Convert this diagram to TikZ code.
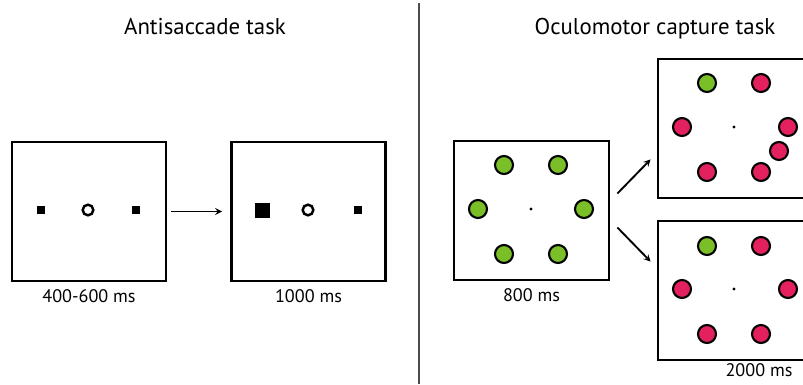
\documentclass[tikz,border=0pt]{standalone}
\usepackage{fontspec}
\setmainfont{PT Sans}
\usetikzlibrary{arrows,positioning}
\definecolor{stimgreen}{RGB}{122,190,40}
\definecolor{stimred}{RGB}{226,33,94}

\begin{document}
\begin{tikzpicture}[
    x=0.03cm, y=-0.03cm,
    node distance=0.2cm,
    screen/.style={rectangle, draw, line width=2.4pt, minimum height=4.17cm},
    heading/.style={font=\fontsize{19.5}{23}\selectfont, inner sep=0pt, anchor=base},
    timing/.style={font=\fontsize{15.5}{18}\selectfont, inner sep=0pt},
    disc/.style={circle, draw, line width=1.8pt, minimum size=0.54cm, inner sep=0pt},
    fixdot/.style={circle, fill, inner sep=0pt, minimum size=0.1cm},
    cue/.style={rectangle, fill, inner sep=0pt, minimum size=0.25cm},
    ring/.style={circle, draw, line width=2.1pt, inner sep=0pt, minimum size=0.32cm},
    arrow/.style={line width=1.6pt,->,>=stealth}
]
\useasboundingbox (0,0) rectangle (803,384);
\clip (0,0) rectangle (803,384);

% Antisaccade task
\node[heading] (antititle) at (205,34) {Antisaccade task};
\node[screen, minimum width=4.62cm] (box1) at (89,211.5) {};
\node[screen, minimum width=4.62cm] (box2) at (308.5,211.5) {};
\node[timing, below=of box1] (t1) {400-600 ms};
\node[timing, below=of box2] (t2) {1000 ms};

\node[cue] (cueL1) at (41,210) {};
\node[ring] (ring1) at (88,210) {};
\node[cue] (cueR1) at (136,210) {};
\node[cue, minimum size=0.45cm] (cueL2) at (262,210) {};
\node[ring] (ring2) at (308,210) {};
\node[cue] (cueR2) at (358,210) {};

\draw[arrow, shorten <=0.12cm, shorten >=0.24cm] (box1) -- (box2);

% Divider
\draw[gray!60!black, line width=1.3pt] (419,3) -- (419,384);

% Oculomotor capture task
\node[heading] (octitle) at (655,34) {Oculomotor capture task};
\node[screen, minimum width=4.65cm] (box3) at (531.5,210.5) {};
\node[screen, minimum width=6.06cm] (box4) at (759,128.5) {};
\node[screen, minimum width=6.06cm] (box5) at (759,290.5) {};
\node[timing, below=of box3] (t3) {800 ms};
\node[timing, below=0.07cm of box5] (t5) {2000 ms};

\node[fixdot] (fix3) at (531,209) {};
\node[fixdot] (fix4) at (734,127) {};
\node[fixdot] (fix5) at (734,289) {};

\foreach \dx/\dy [count=\k] in {-27/-44, 27/-44, -53/0, 53/0, -27/45, 27/45}
  \node[disc, fill=stimgreen] (pre\k) at ([shift={(\dx,\dy)}]fix3) {};
\foreach \dx/\dy/\col [count=\k] in {-27/-44/stimgreen, 27/-44/stimred, -52/0/stimred, 54/0/stimred, 45/24/stimred, -27/45/stimred, 27/45/stimred}
  \node[disc, fill=\col] (cap\k) at ([shift={(\dx,\dy)}]fix4) {};
\foreach \dx/\dy/\col [count=\k] in {-27/-43/stimgreen, 27/-43/stimred, -52/0/stimred, 54/0/stimred, -27/45/stimred, 27/45/stimred}
  \node[disc, fill=\col] (nocap\k) at ([shift={(\dx,\dy)}]fix5) {};

\draw[arrow] ([shift={(7,-17)}]box3.east) -- ([shift={(-6,-40)}]box4.south west);
\draw[arrow] ([shift={(7,17)}]box3.east) -- ([shift={(-6,42)}]box5.north west);

\end{tikzpicture}
\end{document}
